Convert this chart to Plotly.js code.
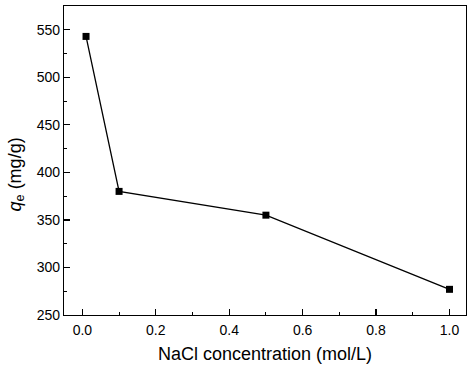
<!DOCTYPE html>
<html><head><meta charset="utf-8">
<script src="https://cdn.plot.ly/plotly-3.0.1.min.js"></script>
<style>html,body{margin:0;padding:0;background:#fff}</style>
</head><body><div id="chart" style="width:474px;height:366px"></div>
<script>
const nacl = [0.01, 0.1, 0.5, 1.0];
const qe = [543, 380, 355, 277];
const xTicks = [0, 0.2, 0.4, 0.6, 0.8, 1.0];
const xTickText = ['0.0', '0.2', '0.4', '0.6', '0.8', '1.0'];
const yTicks = [250, 300, 350, 400, 450, 500, 550];
const xTitle = 'NaCl concentration (mol/L)';
const yTitle = '<i>q</i><sub>e</sub> (mg/g)';

const fam = 'Liberation Sans, Arial, sans-serif';
Plotly.newPlot('chart', [{
  x: nacl, y: qe, type: 'scatter', mode: 'lines+markers',
  line: {color: '#000', width: 1.3},
  marker: {symbol: 'square', size: 7, color: '#000'}
}], {
  width: 474, height: 366,
  margin: {l: 64, r: 8, t: 6, b: 51},
  paper_bgcolor: '#fff', plot_bgcolor: '#fff',
  showlegend: false,
  font: {family: fam, color: '#000'},
  xaxis: {
    range: [-0.05, 1.045], tickvals: xTicks, ticktext: xTickText,
    ticks: 'inside', ticklen: 6, tickwidth: 1.2, tickcolor: '#000',
    minor: {dtick: 0.1, ticks: 'inside', ticklen: 3, tickwidth: 1, tickcolor: '#000'},
    showline: true, mirror: true, linecolor: '#000', linewidth: 1.2,
    showgrid: false, zeroline: false,
    ticklabelstandoff: 2,
    tickfont: {size: 14, family: fam, color: '#000'},
    title: {text: xTitle, font: {size: 18, family: fam, color: '#000'}, standoff: 10}
  },
  yaxis: {
    range: [250, 575], tickvals: yTicks,
    ticks: 'inside', ticklen: 6, tickwidth: 1.2, tickcolor: '#000',
    minor: {dtick: 25, ticks: 'inside', ticklen: 3, tickwidth: 1, tickcolor: '#000'},
    showline: true, mirror: true, linecolor: '#000', linewidth: 1.2,
    showgrid: false, zeroline: false,
    tickfont: {size: 14, family: fam, color: '#000'}
  },
  annotations: [{
    text: yTitle, xref: 'paper', yref: 'paper', x: 0, y: 0.455,
    xshift: -48, xanchor: 'center', yanchor: 'middle', textangle: -90,
    showarrow: false, font: {size: 18, family: fam, color: '#000'}
  }]
}, {staticPlot: true});
</script></body></html>
